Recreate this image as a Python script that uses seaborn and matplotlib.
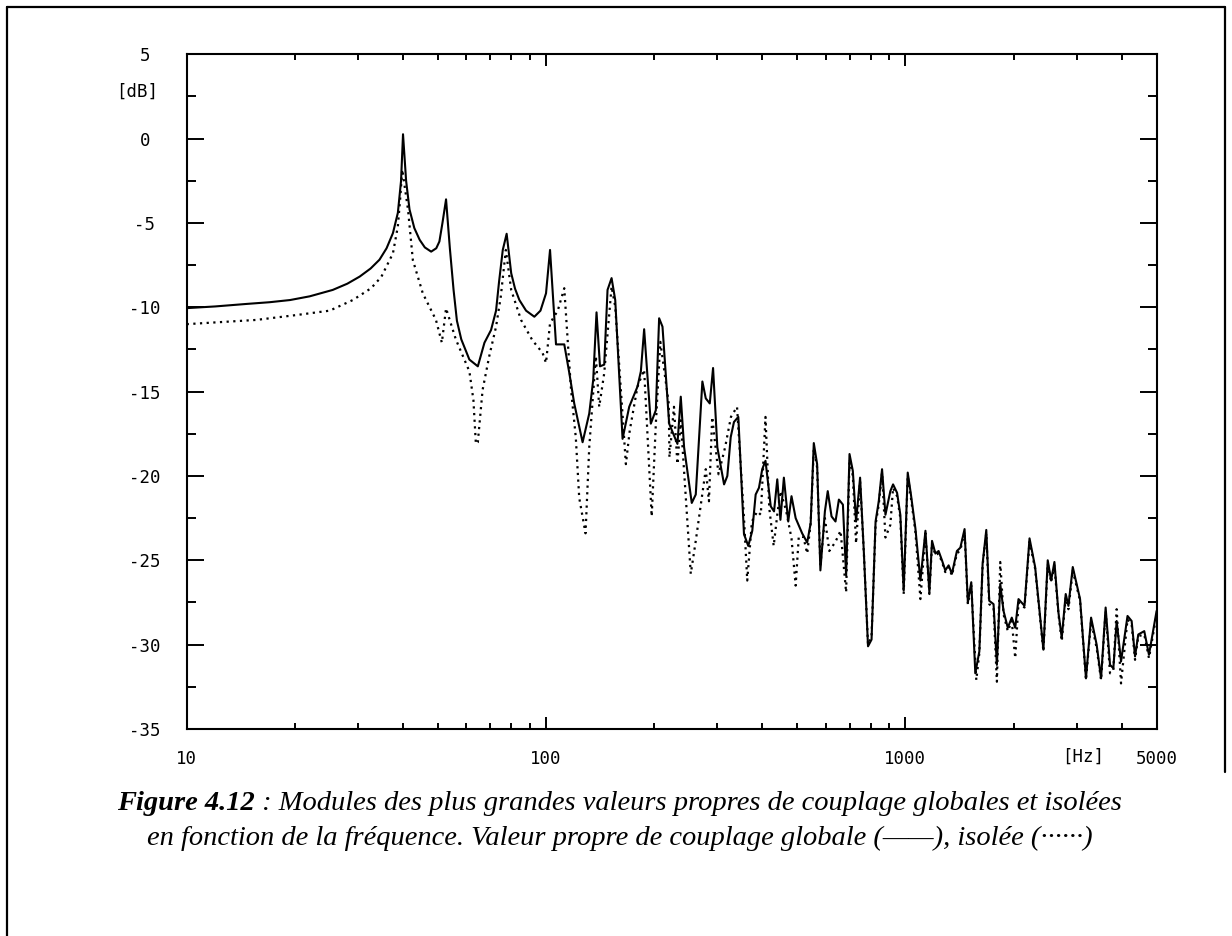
import numpy as np
import pandas as pd
import seaborn as sns
import matplotlib.pyplot as plt
from matplotlib.lines import Line2D
from matplotlib.ticker import FixedLocator, LogLocator, MultipleLocator, NullFormatter

# valeur propre de couplage globale (trait plein)
freq_globale = [10, 12, 14.7, 17, 19.4, 22, 25.5, 28, 30.3, 32.5, 34.4, 36, 37.5, 38.7, 39.5, 40.0,
                40.8, 41.7, 43, 44.5, 46, 47.9, 49.5, 50.5, 51.5, 52.7, 54, 55.3, 56.5, 58.1, 61.2,
                64.6, 67.4, 70.3, 72.6, 74, 75.8, 77.7, 80.0, 82, 84.3, 88, 92.8, 96.5, 100, 102.6,
                106.6, 112.4, 116.1, 119.8, 126.4, 131.9, 135.3, 138.2, 141.3, 145.2, 148.3, 152.2,
                155.8, 163.3, 170.4, 179.7, 183.6, 187.5, 195.7, 202.1, 206.4, 210.9, 220.1, 232.1,
                237.1, 242.2, 254.4, 261.0, 272.3, 278.3, 285.5, 291.6, 299.7, 312.9, 319.5, 326.5,
                333.4, 342.8, 355.5, 365.4, 374.9, 383.1, 391.3, 399.6, 408, 422, 431, 440, 449, 459,
                472, 482, 495, 516, 533, 545, 556, 568, 580, 597, 608, 623, 639, 653, 670, 684, 699,
                714, 729, 748, 766, 787, 805, 826, 843, 861, 880, 908, 924, 948, 968, 989, 1015, 1036,
                1066, 1101, 1137, 1166, 1186, 1212, 1237, 1264, 1291, 1319, 1347, 1391, 1422, 1461,
                1492, 1525, 1565, 1606, 1640, 1679, 1711, 1759, 1797, 1836, 1875, 1927, 1977, 2021,
                2064, 2145, 2215, 2296, 2421, 2489, 2544, 2598, 2666, 2723, 2793, 2842, 2922, 3062,
                3180, 3286, 3405, 3503, 3607, 3710, 3790, 3871, 3981, 4150, 4261, 4355, 4446, 4620,
                4761, 5000]
db_globale = [-10.05, -9.95, -9.8, -9.7, -9.57, -9.35, -8.97, -8.6, -8.18, -7.7, -7.18, -6.5, -5.6,
              -4.4, -2.5, 0.26, -2.5, -4.2, -5.3, -6.0, -6.45, -6.7, -6.5, -6.1, -5.0, -3.6, -6.5,
              -8.97, -10.8, -11.9, -13.1, -13.5, -12.1, -11.35, -10.2, -8.5, -6.6, -5.64, -7.98,
              -8.9, -9.57, -10.2, -10.56, -10.2, -9.17, -6.6, -12.2, -12.2, -13.9, -15.7, -18.0,
              -16.3, -14.3, -10.3, -13.5, -13.4, -8.97, -8.27, -9.57, -17.8, -15.9, -14.7, -13.8,
              -11.3, -16.9, -16.1, -10.65, -11.15, -16.9, -18.1, -15.3, -18.3, -21.6, -21.1, -14.4,
              -15.4, -15.7, -13.6, -18.3, -20.5, -20.0, -17.7, -16.8, -16.5, -23.45, -24.15, -23.25,
              -21.1, -20.7, -19.6, -19.1, -21.8, -22.1, -20.2, -22.6, -20.1, -22.7, -21.2, -22.5,
              -23.4, -23.95, -22.8, -18.05, -19.3, -25.6, -22.1, -20.9, -22.4, -22.7, -21.4, -21.7,
              -25.9, -18.7, -19.7, -22.7, -20.1, -24.45, -30.1, -29.7, -22.7, -21.5, -19.6, -22.3,
              -20.9, -20.5, -21.0, -22.3, -26.8, -19.8, -21.1, -23.1, -26.2, -23.25, -26.9, -23.85,
              -24.6, -24.45, -25.0, -25.6, -25.3, -25.8, -24.45, -24.25, -23.15, -27.5, -26.3,
              -31.7, -30.4, -25.2, -23.2, -27.4, -27.6, -31.2, -26.4, -28.0, -29.0, -28.4, -29.0,
              -27.3, -27.7, -23.7, -25.4, -30.3, -25.0, -26.2, -25.1, -28.1, -29.6, -27.0, -27.7,
              -25.4, -27.3, -32.0, -28.4, -30.0, -32.0, -27.8, -31.2, -31.4, -28.6, -31.0, -28.3,
              -28.6, -30.7, -29.4, -29.2, -30.6, -28.0]

# valeur propre de couplage isolee (pointilles)
freq_isolee = [10, 12, 15.6, 20.2, 25, 29.0, 32.6, 34.8, 37.5, 38.7, 39.3, 39.8, 41.3, 42.6, 45.4,
               49.4, 51.3, 52.7, 56.1, 61.2, 62.8, 63.8, 64.6, 66.6, 69.5, 72.6, 74.8, 77.3, 80.0,
               85.2, 91.6, 97.8, 100, 102.6, 107.8, 112.4, 115, 117.4, 121, 123.7, 128.8, 131.9,
               137.6, 140.6, 145.2, 152.2, 155.8, 166.8, 171, 179.7, 187.5, 196.8, 202.1, 208,
               219.5, 220.5, 227, 232, 237.1, 252.8, 261, 278.3, 284, 290, 302, 315, 327, 340,
               355.5, 363, 374, 387, 396, 408, 418, 430, 440, 449, 465, 482, 495, 505, 520, 533,
               545, 556, 568, 580, 597, 614, 639, 660, 684, 699, 714, 729, 748, 766, 787, 805, 826,
               843, 861, 880, 908, 924, 948, 968, 989, 1015, 1036, 1066, 1101, 1137, 1166, 1186,
               1212, 1237, 1264, 1291, 1319, 1347, 1391, 1422, 1461, 1492, 1525, 1575, 1606, 1640,
               1679, 1711, 1759, 1797, 1836, 1875, 1927, 1977, 2021, 2064, 2145, 2215, 2296, 2421,
               2489, 2544, 2598, 2666, 2723, 2793, 2842, 2922, 3062, 3180, 3286, 3405, 3503, 3607,
               3710, 3790, 3871, 3981, 4150, 4261, 4355, 4446, 4620, 4761, 5000]
db_isolee = [-11.0, -10.9, -10.75, -10.46, -10.2, -9.57, -8.87, -8.2, -6.8, -5.2, -3.5, -1.83, -4.2,
             -7.2, -9.17, -10.75, -12.1, -10.06, -11.9, -13.8, -15.5, -18.1, -18.0, -14.9, -12.9,
             -11.15, -9.4, -6.6, -8.97, -10.75, -11.95, -12.7, -13.3, -10.95, -10.2, -8.87, -12.1,
             -14.9, -17.7, -21.3, -23.4, -18.3, -12.9, -15.9, -13.9, -8.77, -9.96, -19.3, -17.3,
             -14.7, -13.7, -22.4, -16.9, -12.05, -15.7, -18.9, -15.9, -19.3, -16.7, -25.8, -23.85,
             -19.6, -21.5, -16.5, -19.9, -18.3, -16.5, -15.9, -22.5, -26.2, -22.7, -22.1, -22.3,
             -16.5, -21.9, -24.15, -22.3, -20.9, -22.0, -23.7, -26.5, -23.6, -23.6, -24.6, -22.8,
             -18.4, -19.5, -25.3, -22.5, -24.45, -23.9, -23.25, -26.9, -19.0, -20.0, -24.0, -20.3,
             -24.5, -30.0, -29.5, -22.9, -21.7, -19.8, -23.65, -22.9, -20.7, -21.2, -22.5, -27.0,
             -20.0, -21.3, -23.3, -27.3, -23.4, -27.0, -24.0, -24.7, -24.6, -25.1, -25.7, -25.4,
             -25.9, -24.6, -24.4, -23.3, -27.6, -26.5, -32.1, -30.5, -25.3, -23.4, -27.6, -27.8,
             -32.2, -25.1, -28.2, -29.2, -28.6, -30.8, -27.5, -27.8, -23.9, -25.5, -30.4, -25.2,
             -26.3, -25.3, -28.2, -29.8, -27.2, -27.9, -25.6, -27.4, -32.1, -28.6, -30.2, -32.1,
             -28.0, -31.7, -31.5, -27.9, -32.3, -28.5, -28.8, -30.9, -29.5, -29.4, -30.8, -28.2]

x_ticks = [10, 100, 1000, 5000]
x_tick_labels = ['10', '100', '1000', '5000']
y_ticks = [5, 0, -5, -10, -15, -20, -25, -30, -35]
y_tick_labels = ['5', '0', '-5', '-10', '-15', '-20', '-25', '-30', '-35']

caption_line1 = [('Figure 4.12', 'bold'),
                 (' : Modules des plus grandes valeurs propres de couplage globales et isolées', 'normal')]
caption_line2 = [('en fonction de la fréquence. Valeur propre de couplage globale (——), isolée (······)',
                  'normal')]

df_g = pd.DataFrame({'f': freq_globale, 'db': db_globale})
df_i = pd.DataFrame({'f': freq_isolee, 'db': db_isolee})

sns.set_style('white')
plt.rcParams['font.family'] = ['DejaVu Sans Mono', 'DejaVu Sans']
plt.rcParams['text.color'] = 'black'

fig = plt.figure(figsize=(12.32, 9.36), dpi=100)
ax = fig.add_axes([0.1515, 0.2212, 0.7873, 0.7208])
ax.set_xscale('log')

sns.lineplot(data=df_g, x='f', y='db', ax=ax, color='black', linewidth=1.5,
             estimator=None, sort=False)
sns.lineplot(data=df_i, x='f', y='db', ax=ax, color='black', linewidth=1.6,
             linestyle=(0, (1.0, 2.0)), estimator=None, sort=False)

ax.set_xlim(10, 5000)
ax.set_ylim(-35, 5)
ax.set_xlabel('')
ax.set_ylabel('')

ax.xaxis.set_major_locator(FixedLocator(x_ticks))
ax.set_xticklabels(x_tick_labels)
ax.xaxis.set_minor_locator(LogLocator(base=10, subs=np.arange(2, 10)))
ax.xaxis.set_minor_formatter(NullFormatter())
ax.set_yticks(y_ticks)
ax.set_yticklabels(y_tick_labels)
ax.yaxis.set_minor_locator(MultipleLocator(2.5))

ax.tick_params(which='both', direction='in', top=True, right=True, bottom=True, left=True,
               width=1.4, color='black', labelsize=12.5, labelcolor='black')
ax.tick_params(axis='x', which='major', length=8.5, pad=15.5)
ax.tick_params(axis='x', which='minor', length=4.5)
ax.tick_params(axis='y', which='major', length=12, pad=30)
ax.tick_params(axis='y', which='minor', length=6.5)
for lab in ax.get_yticklabels():
    lab.set_horizontalalignment('center')

for sp in ax.spines.values():
    sp.set_linewidth(1.5)
    sp.set_color('black')

ax.text(-0.0512, 2.8, '[dB]', transform=ax.get_yaxis_transform(), ha='center', va='center',
        fontsize=12.5, color='black')
ax.text(3126, -0.0415, '[Hz]', transform=ax.get_xaxis_transform(), ha='center', va='center',
        fontsize=12.5, color='black')

# cadre de la page
fig.add_artist(Line2D([0.0057, 0.0057], [0.0, 0.9925], color='black', linewidth=1.6))
fig.add_artist(Line2D([0.0057, 0.9943], [0.9925, 0.9925], color='black', linewidth=1.6))
fig.add_artist(Line2D([0.9943, 0.9943], [0.9925, 0.175], color='black', linewidth=1.6))


def caption(parts, y, size=20.5):
    texts = []
    for txt, weight in parts:
        t = fig.text(0, y, txt, fontsize=size, fontstyle='italic', fontweight=weight,
                     family='Liberation Serif', ha='left', va='center', color='black')
        texts.append(t)
    fig.canvas.draw()
    renderer = fig.canvas.get_renderer()
    widths = [t.get_window_extent(renderer).width / fig.bbox.width for t in texts]
    x = 0.503 - sum(widths) / 2
    for t, w in zip(texts, widths):
        t.set_x(x)
        x += w


caption(caption_line1, 1 - 803 / 936)
caption(caption_line2, 1 - 838 / 936)

fig.savefig('out.png', dpi=100)
